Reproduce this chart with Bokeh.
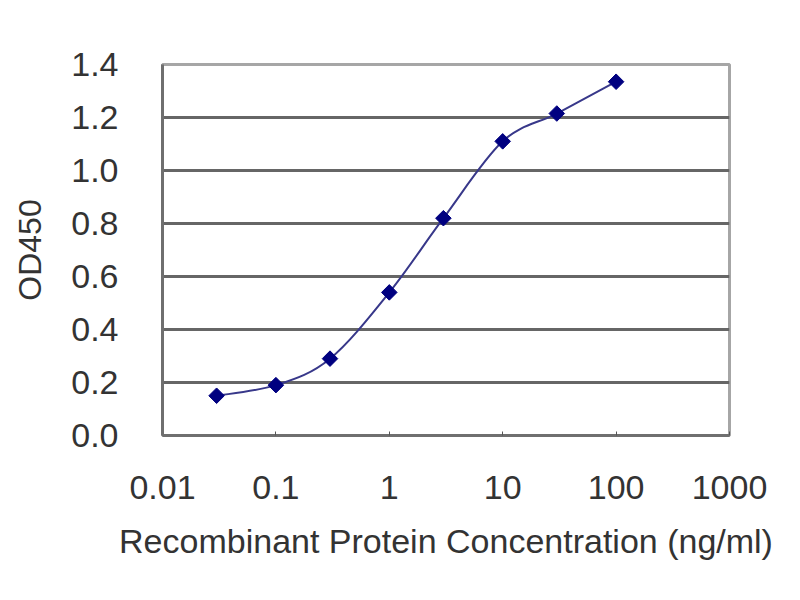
import numpy as np
from bokeh.plotting import figure
from bokeh.models import FixedTicker, NumeralTickFormatter, ColumnDataSource, Range1d
from bokeh.embed import file_html
from bokeh.resources import INLINE

# ---- data ----
concentration = [0.03, 0.1, 0.3, 1, 3, 10, 30, 100]
od450 = [0.15, 0.19, 0.29, 0.54, 0.82, 1.11, 1.215, 1.335]
x_tick_values = [0.01, 0.1, 1, 10, 100, 1000]
x_tick_labels = ["0.01", "0.1", "1", "10", "100", "1000"]
y_tick_values = [0.0, 0.2, 0.4, 0.6, 0.8, 1.0, 1.2, 1.4]
x_title = "Recombinant Protein Concentration (ng/ml)"
y_title = "OD450"

FONT = "Liberation Sans"
TXT = "#333333"

p = figure(width=784, height=584, x_axis_type="log",
           x_range=Range1d(0.01, 1000), y_range=Range1d(0, 1.4),
           output_backend="svg", toolbar_location=None,
           min_border_left=162, min_border_right=55,
           min_border_top=64, min_border_bottom=149)
p.background_fill_color = "white"
p.border_fill_color = "white"
p.outline_line_color = "#a6a6a6"
p.outline_line_width = 3

# smooth line (Catmull-Rom in log-x space -> cubic bezier)
lx = np.log10(np.array(concentration, dtype=float))
ly = np.array(od450, dtype=float)
n = len(lx)
x0, y0, x1, y1, cx0, cy0, cx1, cy1 = ([] for _ in range(8))
for i in range(n - 1):
    ip = max(i - 1, 0)
    inn = min(i + 2, n - 1)
    c1x = lx[i] + (lx[i + 1] - lx[ip]) / 6
    c1y = ly[i] + (ly[i + 1] - ly[ip]) / 6
    c2x = lx[i + 1] - (lx[inn] - lx[i]) / 6
    c2y = ly[i + 1] - (ly[inn] - ly[i]) / 6
    x0.append(10 ** lx[i]); y0.append(ly[i])
    x1.append(10 ** lx[i + 1]); y1.append(ly[i + 1])
    cx0.append(10 ** c1x); cy0.append(c1y)
    cx1.append(10 ** c2x); cy1.append(c2y)
p.bezier(x0=x0, y0=y0, x1=x1, y1=y1, cx0=cx0, cy0=cy0, cx1=cx1, cy1=cy1,
         line_color="#38388a", line_width=2)

src = ColumnDataSource(dict(x=concentration, y=od450))
p.scatter("x", "y", source=src, marker="square", angle=np.pi / 4, size=11,
          fill_color="#000080", line_color="#000080")

# grid
p.xgrid.visible = False
p.ygrid.ticker = FixedTicker(ticks=y_tick_values[1:-1])
p.ygrid.grid_line_color = "#666666"
p.ygrid.grid_line_width = 3

# x axis
xa = p.xaxis[0]
xa.ticker = FixedTicker(ticks=x_tick_values)
xa.major_label_overrides = {v: l for v, l in zip(x_tick_values, x_tick_labels)}
xa.minor_tick_line_color = None
xa.major_tick_in = 4
xa.major_tick_out = 0
xa.major_tick_line_color = "#555555"
xa.axis_line_color = "#6f6f6f"
xa.axis_line_width = 3
xa.major_label_standoff = 40
xa.major_label_text_font = FONT
xa.major_label_text_font_size = "34px"
xa.major_label_text_color = TXT
xa.axis_label = x_title
xa.axis_label_text_font = FONT
xa.axis_label_text_font_style = "normal"
xa.axis_label_text_font_size = "34px"
xa.axis_label_text_color = TXT
xa.axis_label_standoff = 20

# y axis
ya = p.yaxis[0]
ya.ticker = FixedTicker(ticks=y_tick_values)
ya.formatter = NumeralTickFormatter(format="0.0")
ya.minor_tick_line_color = None
ya.major_tick_in = 0
ya.major_tick_out = 0
ya.axis_line_color = "#6f6f6f"
ya.axis_line_width = 3
ya.major_label_standoff = 44
ya.major_label_text_font = FONT
ya.major_label_text_font_size = "34px"
ya.major_label_text_color = TXT
ya.axis_label = y_title
ya.axis_label_text_font = FONT
ya.axis_label_text_font_style = "normal"
ya.axis_label_text_font_size = "32px"
ya.axis_label_text_color = TXT
ya.axis_label_standoff = 20

open("out.html", "w").write(file_html(p, INLINE))
